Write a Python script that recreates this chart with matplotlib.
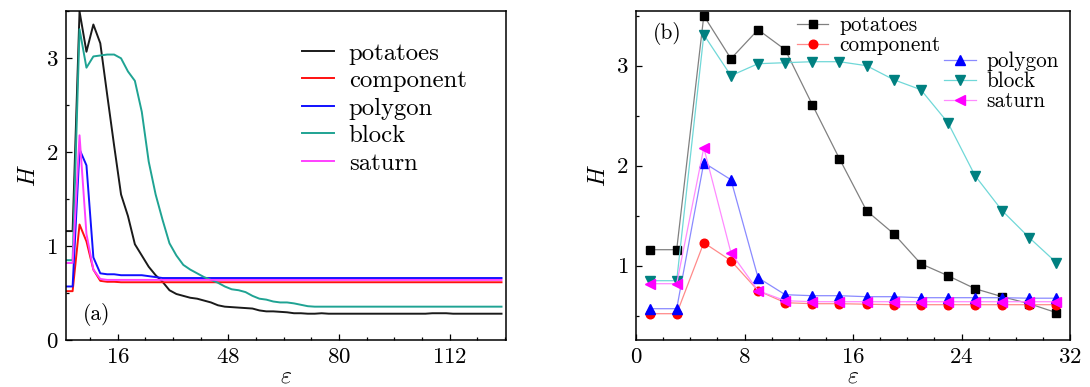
import matplotlib
matplotlib.use("Agg")
import matplotlib.pyplot as plt
from matplotlib.ticker import MultipleLocator

plt.rcParams['font.family'] = ['cmr10', 'DejaVu Serif']
plt.rcParams['mathtext.fontset'] = 'cm'
plt.rcParams['axes.formatter.use_mathtext'] = True

# ---------------- data ----------------
series_names = ["potatoes", "component", "polygon", "block", "saturn"]

# panel (a): eps = 1, 3, 5, ..., 127
eps_a = list(range(1, 128, 2))
potatoes_a = [1.16, 1.16, 3.50, 3.07, 3.36, 3.16, 2.61, 2.07, 1.55, 1.32,
              1.02, 0.90, 0.78, 0.69, 0.62, 0.53, 0.49, 0.47, 0.45, 0.44,
              0.42, 0.40, 0.37, 0.355, 0.35, 0.345, 0.34, 0.335, 0.315, 0.305,
              0.305, 0.30, 0.295, 0.285, 0.285, 0.28, 0.28, 0.285, 0.28, 0.28,
              0.28, 0.28, 0.28, 0.28, 0.28, 0.28, 0.28, 0.28, 0.28, 0.28,
              0.28, 0.28, 0.28, 0.285, 0.285, 0.285, 0.28, 0.28, 0.28, 0.28,
              0.28, 0.28, 0.28, 0.28]
component_a = [0.52, 0.52, 1.23, 1.05, 0.75, 0.63, 0.62, 0.62, 0.615, 0.615,
               0.615, 0.615, 0.615, 0.615, 0.615, 0.615, 0.615, 0.615, 0.615, 0.615,
               0.615, 0.615, 0.615, 0.615, 0.615, 0.615, 0.615, 0.615, 0.615, 0.615,
               0.615, 0.615, 0.615, 0.615, 0.615, 0.615, 0.615, 0.615, 0.615, 0.615,
               0.615, 0.615, 0.615, 0.615, 0.615, 0.615, 0.615, 0.615, 0.615, 0.615,
               0.615, 0.615, 0.615, 0.615, 0.615, 0.615, 0.615, 0.615, 0.615, 0.615,
               0.615, 0.615, 0.615, 0.615]
polygon_a = [0.57, 0.57, 2.03, 1.86, 0.88, 0.71, 0.70, 0.70, 0.69, 0.69,
             0.69, 0.69, 0.68, 0.67, 0.66, 0.66, 0.66, 0.66, 0.66, 0.66,
             0.66, 0.66, 0.66, 0.66, 0.66, 0.66, 0.66, 0.66, 0.66, 0.66,
             0.66, 0.66, 0.66, 0.66, 0.66, 0.66, 0.66, 0.66, 0.66, 0.66,
             0.66, 0.66, 0.66, 0.66, 0.66, 0.66, 0.66, 0.66, 0.66, 0.66,
             0.66, 0.66, 0.66, 0.66, 0.66, 0.66, 0.66, 0.66, 0.66, 0.66,
             0.66, 0.66, 0.66, 0.66]
block_a = [0.85, 0.85, 3.31, 2.90, 3.02, 3.03, 3.04, 3.04, 3.00, 2.86,
           2.76, 2.43, 1.90, 1.55, 1.28, 1.03, 0.90, 0.80, 0.75, 0.71,
           0.67, 0.64, 0.61, 0.57, 0.54, 0.53, 0.51, 0.47, 0.44, 0.43,
           0.41, 0.40, 0.40, 0.39, 0.375, 0.36, 0.355, 0.355, 0.355, 0.355,
           0.355, 0.355, 0.355, 0.355, 0.355, 0.355, 0.355, 0.355, 0.355, 0.355,
           0.355, 0.355, 0.355, 0.355, 0.355, 0.355, 0.355, 0.355, 0.355, 0.355,
           0.355, 0.355, 0.355, 0.355]
saturn_a = [0.82, 0.82, 2.18, 1.13, 0.75, 0.65, 0.64, 0.64, 0.64, 0.64,
            0.64, 0.64, 0.64, 0.64, 0.64, 0.64, 0.64, 0.64, 0.64, 0.64,
            0.64, 0.64, 0.64, 0.64, 0.64, 0.64, 0.64, 0.64, 0.64, 0.64,
            0.64, 0.64, 0.64, 0.64, 0.64, 0.64, 0.64, 0.64, 0.64, 0.64,
            0.64, 0.64, 0.64, 0.64, 0.64, 0.64, 0.64, 0.64, 0.64, 0.64,
            0.64, 0.64, 0.64, 0.64, 0.64, 0.64, 0.64, 0.64, 0.64, 0.64,
            0.64, 0.64, 0.64, 0.64]

# panel (b): eps = 1, 3, ..., 31
eps_b = [1, 3, 5, 7, 9, 11, 13, 15, 17, 19, 21, 23, 25, 27, 29, 31]
potatoes_b = [1.16, 1.16, 3.50, 3.07, 3.36, 3.16, 2.61, 2.07, 1.55, 1.32, 1.02, 0.90, 0.77, 0.69, 0.62, 0.53]
component_b = [0.52, 0.52, 1.23, 1.05, 0.75, 0.63, 0.62, 0.62, 0.615, 0.61, 0.61, 0.61, 0.61, 0.61, 0.61, 0.61]
polygon_b = [0.57, 0.57, 2.03, 1.86, 0.88, 0.71, 0.70, 0.70, 0.69, 0.69, 0.68, 0.68, 0.68, 0.68, 0.675, 0.675]
block_b = [0.85, 0.85, 3.31, 2.90, 3.02, 3.03, 3.04, 3.04, 3.00, 2.86, 2.76, 2.43, 1.90, 1.55, 1.28, 1.03]
saturn_b = [0.82, 0.82, 2.18, 1.13, 0.75, 0.65, 0.64, 0.64, 0.64, 0.64, 0.64, 0.64, 0.64, 0.64, 0.64, 0.64]

xticks_a = [16, 48, 80, 112]
xticks_b = [0, 8, 16, 24, 32]
yticks = [0, 1, 2, 3]

# ---------------- styling ----------------
colors_a = ["#1a1a1a", "#ff1010", "#1010ff", "#1fa393", "#ff40ff"]
line_b = ["#808080", "#ff8a8a", "#8a8aff", "#70d8d8", "#ff8aff"]
mark_b = ["#000000", "#ff0000", "#0000ff", "#008080", "#ff00ff"]
markers_b = ["s", "o", "^", "v", "<"]

fig = plt.figure(figsize=(10.9, 3.87), dpi=100)
W, Hh = 1090, 387
ax1 = fig.add_axes([65.7 / W, (Hh - 340) / Hh, (506 - 65.7) / W, (340 - 10.7) / Hh])
ax2 = fig.add_axes([636 / W, (Hh - 340) / Hh, (1070 - 636) / W, (340 - 10.7) / Hh])

data_a = [potatoes_a, component_a, polygon_a, block_a, saturn_a]
data_b = [potatoes_b, component_b, polygon_b, block_b, saturn_b]

for name, ys, c in zip(series_names, data_a, colors_a):
    ax1.plot(eps_a, ys, color=c, lw=1.4, label=name)

handles_b = []
for name, ys, lc, mc, m in zip(series_names, data_b, line_b, mark_b, markers_b):
    ms = 6.2 if m in ("s", "o") else 7.2
    h, = ax2.plot(eps_b, ys, color=lc, lw=0.9, marker=m, ms=ms,
                  mfc=mc, mec=mc, label=name)
    handles_b.append(h)

for ax in (ax1, ax2):
    for s in ax.spines.values():
        s.set_linewidth(1.1)
    ax.tick_params(which='both', direction='in', top=False, right=False,
                   labelsize=16.5, width=0.9, pad=5.5)
    ax.tick_params(which='major', length=4)
    ax.tick_params(which='minor', length=2.5)
    ax.set_yticks(yticks)
    ax.yaxis.set_minor_locator(MultipleLocator(0.5))
    ax.set_ylabel(r"$H$", fontsize=17, labelpad=4)
    ax.set_xlabel(r"$\varepsilon$", fontsize=17, labelpad=-1)

ax1.set_xlim(1, 128.3)
ax1.set_ylim(0, 3.507)
ax1.set_xticks(xticks_a)
ax1.xaxis.set_minor_locator(MultipleLocator(8))

ax2.set_xlim(0, 32)
ax2.set_ylim(0.257, 3.55)
ax2.set_xticks(xticks_b)
ax2.xaxis.set_minor_locator(MultipleLocator(2))

ax1.text(0.04, 0.06, "(a)", transform=ax1.transAxes, fontsize=15.5)
ax2.text(0.04, 0.915, "(b)", transform=ax2.transAxes, fontsize=15.5)

ax1.legend(loc='upper left', bbox_to_anchor=(0.536, 0.904), frameon=False,
           fontsize=17.8, handlelength=1.3, handletextpad=0.6,
           labelspacing=0.21, borderpad=0, borderaxespad=0)

leg1 = ax2.legend(handles=handles_b[:2], loc='upper left', bbox_to_anchor=(0.37, 0.985),
                  frameon=False, fontsize=15.3, handlelength=1.5, handletextpad=0.5,
                  labelspacing=0.03, borderpad=0, borderaxespad=0)
ax2.add_artist(leg1)
ax2.legend(handles=handles_b[2:], loc='upper left', bbox_to_anchor=(0.71, 0.876),
           frameon=False, fontsize=15.3, handlelength=1.5, handletextpad=0.5,
           labelspacing=0.03, borderpad=0, borderaxespad=0)

fig.savefig("out.png", dpi=100)
